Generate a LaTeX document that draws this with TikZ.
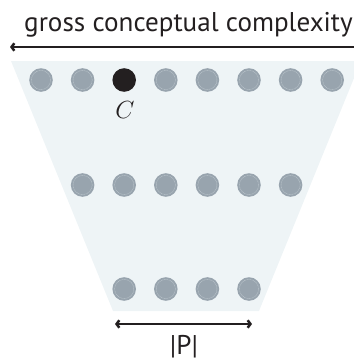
\documentclass[tikz,border=0pt]{standalone}
\usepackage{fontspec}
\setmainfont{PT Sans}
\usetikzlibrary{arrows.meta}
\definecolor{trap}{HTML}{EEF4F6}
\definecolor{dotc}{HTML}{98A4AE}
\definecolor{ringc}{HTML}{BCC6CD}
\definecolor{darkc}{HTML}{231F20}
\tikzset{
  dot/.style={circle, fill=dotc, minimum size=23.6bp, inner sep=0pt, draw=none,
    path picture={\draw[ringc, dash pattern=on 1bp off 0.6bp, line width=0.45bp] (path picture bounding box.center) circle (9.6bp);}},
  blackdot/.style={circle, fill=darkc, minimum size=23.6bp, inner sep=0pt, draw=none},
  dim/.style={draw=darkc, line width=2.5bp, {Straight Barb[length=2.8bp,width=7.5bp]}-{Straight Barb[length=2.8bp,width=7.5bp]}},
  lab/.style={inner sep=0pt, anchor=base, text=darkc}
}
\begin{document}
\begin{tikzpicture}[x=1bp, y=-1bp]
\useasboundingbox (0,0) rectangle (354,362);
\clip (0,0) rectangle (354,362);
\fill[trap] (11,61) -- (361,61) -- (259,311) -- (113,311) -- cycle;
% top row
\foreach \i/\x in {1/41,2/82.6,4/165.8,5/207.4,6/249,7/290.6,8/332.2}
  \node[dot] (t\i) at (\x,80) {};
\node[blackdot] (t3) at (124.2,80) {};
\node[lab, font=\fontsize{23}{27}\selectfont] (clab) at (125,118) {$C$};
% middle row
\foreach \i/\x in {1/82.6,2/124.2,3/165.8,4/207.4,5/249,6/290.6}
  \node[dot] (m\i) at (\x,185) {};
% bottom row
\foreach \i/\x in {1/124.2,2/165.8,3/207.4,4/249}
  \node[dot] (b\i) at (\x,289) {};
% top dimension
\coordinate (tl) at (10,47);
\coordinate (tr) at (362,47);
\draw[dim] (tl) -- (tr);
\node[lab, font=\fontsize{27.2}{32}\selectfont] (ttext) at (188.5,31) {gross conceptual complexity};
% bottom dimension
\coordinate (bl) at (115,324);
\coordinate (br) at (252,324);
\draw[dim] (bl) -- (br);
\node[lab, font=\fontsize{27.2}{32}\selectfont] (ptext) at (184,354) {|P|};
\end{tikzpicture}
\end{document}
